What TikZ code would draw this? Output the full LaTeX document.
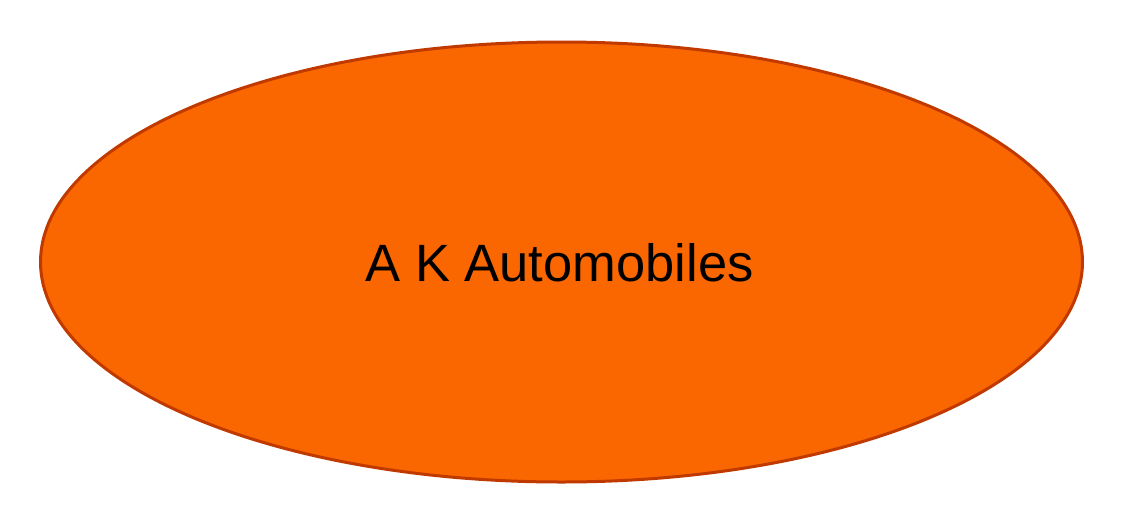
\documentclass[tikz,border=0pt]{standalone}
\usepackage{fontspec}
\setmainfont{Liberation Sans}
\usetikzlibrary{shapes.geometric}
\definecolor{fillor}{HTML}{FA6600}
\definecolor{edgeor}{HTML}{C03A00}
\tikzset{oval/.style={ellipse, draw=edgeor, fill=fillor, line width=3pt, inner sep=0pt, minimum width=1042pt, minimum height=440pt}}
\begin{document}
\begin{tikzpicture}[x=1pt,y=-1pt]
\useasboundingbox (0,0) rectangle (1128,528);
\node[oval] (e) at (561.5,262) {};
\node[font=\fontsize{52.5}{60}\selectfont, anchor=base] (t) at (559.5,281) {A K Automobiles};
\end{tikzpicture}
\end{document}
